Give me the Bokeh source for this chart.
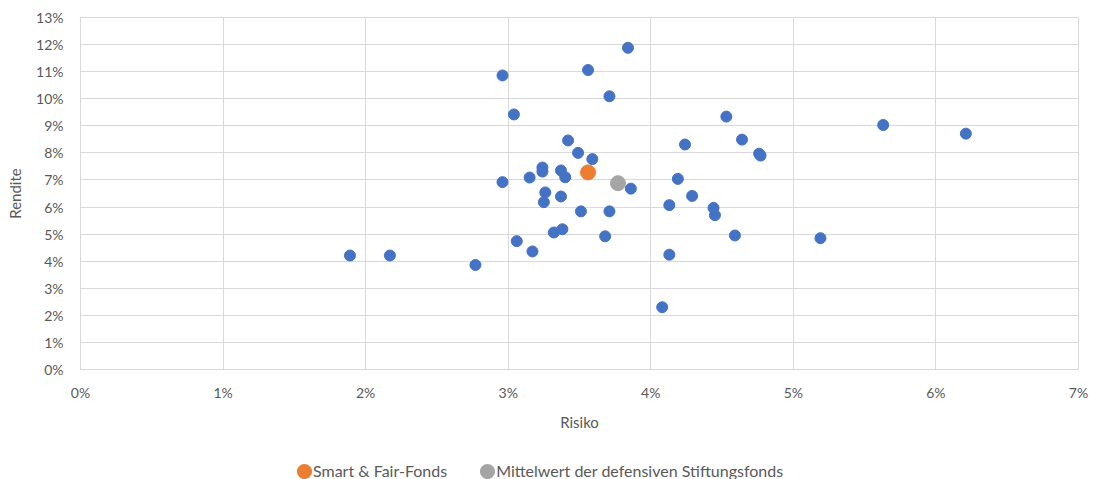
from bokeh.plotting import figure
from bokeh.models import (FixedTicker, PrintfTickFormatter, Legend, LegendItem,
                          Range1d)
from bokeh.layouts import column
from bokeh.embed import file_html
from bokeh.resources import INLINE

# Stiftungsfonds: Risiko (%) und Rendite (%)
fund_risk = [1.89, 2.17, 2.77, 2.96, 2.96, 3.04, 3.06, 3.15, 3.17, 3.24, 3.24,
             3.26, 3.25, 3.32, 3.37, 3.40, 3.37, 3.38, 3.42, 3.49, 3.51, 3.56,
             3.59, 3.68, 3.71, 3.71, 3.84, 3.86, 4.08, 4.13, 4.13, 4.19, 4.24,
             4.29, 4.44, 4.45, 4.53, 4.59, 4.64, 4.76, 4.77, 5.19, 5.63, 6.21]
fund_return = [4.21, 4.21, 3.86, 10.86, 6.92, 9.42, 4.74, 7.09, 4.36, 7.46, 7.31,
               6.54, 6.18, 5.06, 7.35, 7.10, 6.39, 5.18, 8.46, 8.00, 5.84, 11.06,
               7.77, 4.92, 5.84, 10.09, 11.88, 6.68, 2.30, 4.24, 6.07, 7.04, 8.31,
               6.41, 5.97, 5.70, 9.34, 4.95, 8.49, 7.97, 7.90, 4.85, 9.03, 8.71]
smart_risk = [3.56]
smart_return = [7.28]
mean_risk = [3.77]
mean_return = [6.88]
legend_labels = ["Smart & Fair-Fonds", "Mittelwert der defensiven Stiftungsfonds"]

x_ticks = [0, 1, 2, 3, 4, 5, 6, 7]
y_ticks = list(range(0, 14))

GRID = "#d9d9d9"
TEXT = "#595959"
FONT = "Lato"
BLUE, ORANGE, GREY = "#4472c4", "#ed7d31", "#a5a5a5"

p = figure(width=1093, height=455, output_backend="svg", toolbar_location=None,
           x_range=Range1d(0, 7), y_range=Range1d(0, 13),
           min_border_left=80, min_border_right=15, min_border_top=17,
           min_border_bottom=86)
p.background_fill_color = "white"
p.border_fill_color = "white"
p.outline_line_color = GRID

p.xgrid.ticker = FixedTicker(ticks=x_ticks)
p.ygrid.ticker = FixedTicker(ticks=y_ticks)
p.xgrid.grid_line_color = GRID
p.ygrid.grid_line_color = GRID

p.scatter(x=fund_risk, y=fund_return, size=11, color=BLUE)
p.scatter(x=smart_risk, y=smart_return, size=15, color=ORANGE)
p.scatter(x=mean_risk, y=mean_return, size=15, color=GREY)

for ax in (p.xaxis[0], p.yaxis[0]):
    ax.axis_line_color = GRID
    ax.major_tick_line_color = None
    ax.minor_tick_line_color = None
    ax.major_tick_out = 0
    ax.major_tick_in = 0
    ax.major_label_text_color = TEXT
    ax.major_label_text_font = FONT
    ax.major_label_text_font_size = "14px"
    ax.axis_label_text_color = TEXT
    ax.axis_label_text_font = FONT
    ax.axis_label_text_font_size = "15px"
    ax.axis_label_text_font_style = "normal"
    ax.formatter = PrintfTickFormatter(format="%d%%")

p.xaxis[0].ticker = FixedTicker(ticks=x_ticks)
p.yaxis[0].ticker = FixedTicker(ticks=y_ticks)
p.xaxis[0].axis_label = "Risiko"
p.yaxis[0].axis_label = "Rendite"
p.xaxis[0].major_label_standoff = 14
p.xaxis[0].axis_label_standoff = 9
p.yaxis[0].major_label_standoff = 17
p.yaxis[0].axis_label_standoff = 9

# legend strip below the chart (its frame is aligned with the chart's frame)
leg = figure(width=1093, height=24, output_backend="svg", toolbar_location=None,
             x_range=Range1d(-1, 0), y_range=Range1d(-1, 0),
             min_border_left=80, min_border_right=15, min_border_top=0,
             min_border_bottom=0, x_axis_location=None, y_axis_location=None)
leg.outline_line_color = None
leg.grid.visible = False
# same series as in the chart; they lie outside this strip's ranges, only the legend glyphs show
l_smart = leg.scatter(x=smart_risk, y=smart_return, size=15, color=ORANGE, line_width=8)
l_mean = leg.scatter(x=mean_risk, y=mean_return, size=15, color=GREY, line_width=8)

legend = Legend(items=[LegendItem(label=legend_labels[0], renderers=[l_smart]),
                       LegendItem(label=legend_labels[1], renderers=[l_mean])],
                orientation="horizontal", location=(215, -1))
legend.border_line_color = None
legend.background_fill_alpha = 0
legend.label_text_color = TEXT
legend.label_text_font = FONT
legend.label_text_font_size = "16px"
legend.glyph_width = 18
legend.glyph_height = 18
legend.label_standoff = 0
legend.spacing = 31
legend.padding = 0
legend.margin = 0
leg.add_layout(legend, "center")

layout = column(p, leg, spacing=0)
open("out.html", "w").write(file_html(layout, INLINE))
